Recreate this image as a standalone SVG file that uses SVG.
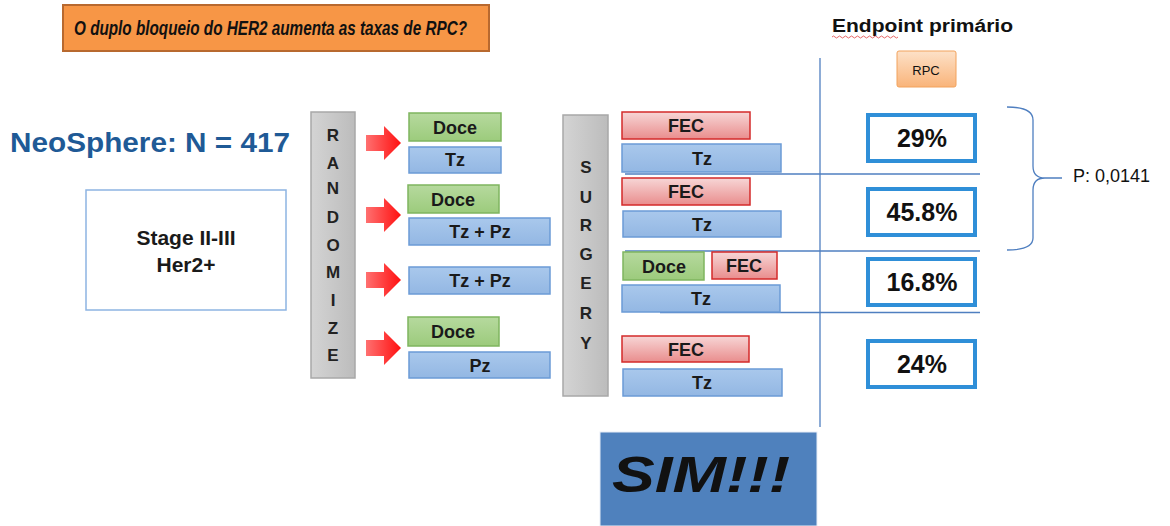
<svg xmlns="http://www.w3.org/2000/svg" width="1170" height="526" viewBox="0 0 1170 526">
<defs>
<linearGradient id="gGreen" x1="0" y1="0" x2="0" y2="1"><stop offset="0" stop-color="#b6d99e"/><stop offset="1" stop-color="#9ccb7c"/></linearGradient>
<linearGradient id="gBlue" x1="0" y1="0" x2="0" y2="1"><stop offset="0" stop-color="#a9c8ec"/><stop offset="1" stop-color="#93b7e3"/></linearGradient>
<linearGradient id="gRed" x1="0" y1="0" x2="0" y2="1"><stop offset="0" stop-color="#f7d6d6"/><stop offset="1" stop-color="#e98d8d"/></linearGradient>
<linearGradient id="gGray" x1="0" y1="0" x2="1" y2="0"><stop offset="0" stop-color="#d4d4d4"/><stop offset="1" stop-color="#bcbcbc"/></linearGradient>
<linearGradient id="gArrow" x1="0" y1="0" x2="1" y2="0"><stop offset="0" stop-color="#ff7070"/><stop offset="1" stop-color="#ff1010"/></linearGradient>
<linearGradient id="gOrange" x1="0" y1="0" x2="0" y2="1"><stop offset="0" stop-color="#fde1c8"/><stop offset="1" stop-color="#f9b47a"/></linearGradient>
<path id="arrow" d="M0,-8 L18,-8 L18,-17 L35,0 L18,17 L18,8 L0,8 Z"/>
</defs>
<style>
.t{font-family:"Liberation Sans",Arial,sans-serif;fill:#111;}
.bx{font-family:"Liberation Sans",Arial,sans-serif;font-weight:bold;font-size:18px;fill:#1a1a1a;text-anchor:middle;}
.st{font-family:"Liberation Sans",Arial,sans-serif;font-weight:bold;font-size:21px;fill:#1a1a1a;text-anchor:middle;}
.green{fill:url(#gGreen);stroke:#7fb55f;stroke-width:1.5;}
.blue{fill:url(#gBlue);stroke:#6b9bd6;stroke-width:1.5;}
.red{fill:url(#gRed);stroke:#d42a2a;stroke-width:1.5;}
.gray{fill:url(#gGray);stroke:#a8a8a8;stroke-width:1.5;}
.vl{font-family:"Liberation Sans",Arial,sans-serif;font-weight:bold;font-size:17px;fill:#222;text-anchor:middle;}
.pct{fill:#fff;stroke:#2f8fd8;stroke-width:4;}
.pt{font-family:"Liberation Sans",Arial,sans-serif;font-weight:bold;font-size:25px;fill:#111;text-anchor:middle;}
.ln{stroke:#4f7fc0;stroke-width:1.3;fill:none;}
</style>

<g id="connectors">
<line class="ln" x1="820" y1="58" x2="820" y2="427"/>
<line class="ln" x1="625" y1="174" x2="980" y2="174"/>
<line class="ln" x1="625" y1="251" x2="980" y2="251"/>
<line class="ln" x1="660" y1="312.5" x2="980" y2="312.5"/>
<path class="ln" d="M1007,107 Q1033,107 1033,120 L1033,166 Q1033,178 1045,178 L1062,178 M1045,178 Q1033,178 1033,190 L1033,238 Q1033,250 1007,250"/>
<use href="#arrow" x="366" y="143" fill="url(#gArrow)"/>
<use href="#arrow" x="366" y="215" fill="url(#gArrow)"/>
<use href="#arrow" x="366" y="280" fill="url(#gArrow)"/>
<use href="#arrow" x="366" y="348" fill="url(#gArrow)"/>
</g>

<g id="title">
<rect x="63" y="5" width="426" height="46" fill="#f79646" stroke="#b8692f" stroke-width="2"/>
<text class="t" x="74" y="35" font-size="21" font-weight="bold" font-style="italic" textLength="393" lengthAdjust="spacingAndGlyphs">O duplo bloqueio do HER2 aumenta as taxas de RPC?</text>
</g>

<g id="neosphere">
<text x="10" y="152" font-family="'Liberation Sans',Arial,sans-serif" font-weight="bold" font-size="27" fill="#1f5a96" textLength="280" lengthAdjust="spacingAndGlyphs">NeoSphere: N = 417</text>
</g>

<g id="stage">
<rect x="86" y="190" width="200" height="120" fill="#fff" stroke="#8db4e2" stroke-width="1.5"/>
<text class="st" x="186" y="245">Stage II-III</text>
<text class="st" x="186" y="272">Her2+</text>
</g>

<g id="randomize">
<rect class="gray" x="311" y="112" width="44" height="266"/>
<text class="vl" x="333" y="141">R</text>
<text class="vl" x="333" y="169">A</text>
<text class="vl" x="333" y="194">N</text>
<text class="vl" x="333" y="223">D</text>
<text class="vl" x="333" y="251">O</text>
<text class="vl" x="333" y="278">M</text>
<text class="vl" x="333" y="306">I</text>
<text class="vl" x="333" y="334">Z</text>
<text class="vl" x="333" y="361">E</text>
</g>

<g id="arm1">
<rect class="green" x="409" y="113" width="92" height="28"/><text class="bx" x="455" y="134">Doce</text>
<rect class="blue" x="409" y="147" width="92" height="26"/><text class="bx" x="455" y="166">Tz</text>
</g>
<g id="arm2">
<rect class="green" x="408" y="185" width="91" height="28"/><text class="bx" x="453" y="206">Doce</text>
<rect class="blue" x="409" y="218" width="141" height="27"/><text class="bx" x="480" y="238">Tz + Pz</text>
</g>
<g id="arm3">
<rect class="blue" x="409" y="267" width="141" height="27"/><text class="bx" x="480" y="287">Tz + Pz</text>
</g>
<g id="arm4">
<rect class="green" x="408" y="317" width="91" height="29"/><text class="bx" x="453" y="338">Doce</text>
<rect class="blue" x="409" y="352" width="141" height="26"/><text class="bx" x="480" y="372">Pz</text>
</g>

<g id="surgery">
<rect class="gray" x="563" y="115" width="45" height="281"/>
<text class="vl" x="586" y="173">S</text>
<text class="vl" x="586" y="203">U</text>
<text class="vl" x="586" y="231">R</text>
<text class="vl" x="586" y="260">G</text>
<text class="vl" x="586" y="289">E</text>
<text class="vl" x="586" y="319">R</text>
<text class="vl" x="586" y="349">Y</text>
</g>

<g id="post1">
<rect class="red" x="622" y="112" width="128" height="27"/><text class="bx" x="686" y="132">FEC</text>
<rect class="blue" x="622" y="144" width="159" height="28"/><text class="bx" x="702" y="165">Tz</text>
</g>
<g id="post2">
<rect class="red" x="622" y="178" width="128" height="27"/><text class="bx" x="686" y="198">FEC</text>
<rect class="blue" x="623" y="211" width="158" height="26"/><text class="bx" x="702" y="231">Tz</text>
</g>
<g id="post3">
<rect class="green" x="623" y="252" width="81" height="28"/><text class="bx" x="664" y="273">Doce</text>
<rect class="red" x="712" y="252" width="65" height="27"/><text class="bx" x="744" y="272">FEC</text>
<rect class="blue" x="622" y="285" width="158" height="27"/><text class="bx" x="701" y="305">Tz</text>
</g>
<g id="post4">
<rect class="red" x="622" y="336" width="127" height="26"/><text class="bx" x="686" y="356">FEC</text>
<rect class="blue" x="623" y="369" width="159" height="27"/><text class="bx" x="702" y="389">Tz</text>
</g>

<g id="endpoint">
<text class="t" x="832" y="32" font-size="18" font-weight="bold" textLength="181" lengthAdjust="spacingAndGlyphs">Endpoint primário</text>
<path d="M832,37 q1.5,-2 3,0 t3,0 t3,0 t3,0 t3,0 t3,0 t3,0 t3,0 t3,0 t3,0 t3,0 t3,0 t3,0 t3,0 t3,0 t3,0 t3,0 t3,0 t3,0 t3,0 t3,0 t3,0" fill="none" stroke="#e04040" stroke-width="0.8"/>
</g>

<g id="rpc">
<rect x="897" y="51" width="59" height="36" rx="2" fill="url(#gOrange)" stroke="#f2a25c" stroke-width="1"/>
<text class="t" x="926" y="75" font-size="13" text-anchor="middle" fill="#333">RPC</text>
</g>

<g id="pct1"><rect class="pct" x="868" y="115" width="107" height="46"/><text class="pt" x="922" y="147">29%</text></g>
<g id="pct2"><rect class="pct" x="868" y="189" width="107" height="46"/><text class="pt" x="922" y="221">45.8%</text></g>
<g id="pct3"><rect class="pct" x="868" y="259" width="107" height="46"/><text class="pt" x="922" y="291">16.8%</text></g>
<g id="pct4"><rect class="pct" x="868" y="341" width="107" height="46"/><text class="pt" x="922" y="373">24%</text></g>

<g id="pvalue">
<text class="t" x="1073" y="182" font-size="18" fill="#222">P: 0,0141</text>
</g>

<g id="sim">
<rect x="600" y="432" width="217" height="94" fill="#4f81bd" stroke="#e8eef7" stroke-width="1"/>
<text class="t" x="612" y="492" font-size="50" font-weight="bold" font-style="italic" fill="#000" textLength="178" lengthAdjust="spacingAndGlyphs">SIM!!!</text>
</g>
</svg>
